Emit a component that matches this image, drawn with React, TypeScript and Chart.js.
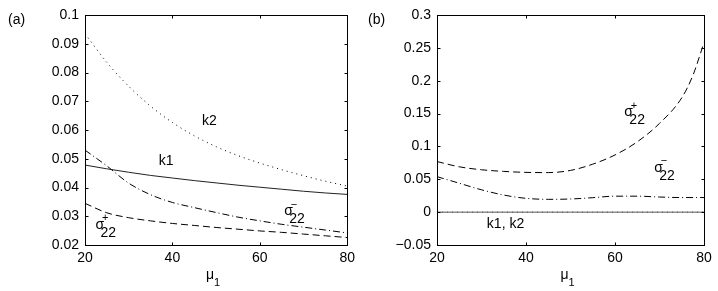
import React, { useEffect, useRef } from "react";
import { Chart, registerables } from "chart.js";

Chart.register(...registerables);

// ---------- data ----------
const MU = [20, 25, 30, 35, 40, 45, 50, 55, 60, 65, 70, 75, 80];

// panel (a)
const A_K1 = [0.0478, 0.0465, 0.0453, 0.0442, 0.0433, 0.0424, 0.0416, 0.0408, 0.0401, 0.0394, 0.0387, 0.0381, 0.0376];
const A_K2 = [0.0935, 0.0835, 0.0752, 0.0683, 0.0626, 0.058, 0.0542, 0.0511, 0.0485, 0.0462, 0.0441, 0.0422, 0.0405];
const A_SIG_MINUS = [0.053, 0.0475, 0.0415, 0.0375, 0.0348, 0.033, 0.0313, 0.0297, 0.0284, 0.0272, 0.0262, 0.0252, 0.0242];
const A_SIG_PLUS = [0.0345, 0.0312, 0.0295, 0.0284, 0.0275, 0.0268, 0.0261, 0.0255, 0.0249, 0.0244, 0.0238, 0.0232, 0.0226];

// panel (b)
const MU_B = [20, 25, 30, 35, 40, 45, 50, 55, 60, 65, 70, 75, 77.5, 80];
const B_SIG_PLUS = [0.077, 0.069, 0.0645, 0.062, 0.0605, 0.0602, 0.0635, 0.073, 0.087, 0.107, 0.135, 0.174, 0.208, 0.258];
const B_SIG_MINUS = [0.054, 0.044, 0.034, 0.026, 0.021, 0.0195, 0.02, 0.022, 0.0243, 0.0243, 0.023, 0.0222, 0.0222, 0.0225];
const B_K1 = [0, 0, 0, 0, 0, 0, 0, 0, 0, 0, 0, 0, 0];
const B_K2 = [0, 0, 0, 0, 0, 0, 0, 0, 0, 0, 0, 0, 0];

// ticks
const X_TICKS = [20, 40, 60, 80];
const A_Y_TICKS = [0.02, 0.03, 0.04, 0.05, 0.06, 0.07, 0.08, 0.09, 0.1];
const B_Y_TICKS = [-0.05, 0, 0.05, 0.1, 0.15, 0.2, 0.25, 0.3];

const FONT = '"Liberation Sans", Arial, Helvetica, sans-serif';
const FS = 14;

type Ann =
  | { kind: "text"; text: string; x: number; y: number }
  | { kind: "sigma"; sign: "+" | "−"; x: number; y: number };

const A_ANN: Ann[] = [
  { kind: "text", text: "k2", x: 46.8, y: 0.0617 },
  { kind: "text", text: "k1", x: 36.9, y: 0.0478 },
  { kind: "sigma", sign: "−", x: 65.6, y: 0.0304 },
  { kind: "sigma", sign: "+", x: 22.4, y: 0.0256 },
];
const B_ANN: Ann[] = [
  { kind: "sigma", sign: "+", x: 62.1, y: 0.1463 },
  { kind: "sigma", sign: "−", x: 68.8, y: 0.0615 },
  { kind: "text", text: "k1, k2", x: 31.2, y: -0.0241 },
];

const pts = (xs: number[], ys: number[]) => ys.map((y, i) => ({ x: xs[i], y }));

const fmt = (v: number) => {
  const s = String(Number(v.toFixed(4)));
  return s.startsWith("-") ? "−" + s.slice(1) : s;
};

const framePlugin = {
  id: "frame",
  afterDraw(chart: any) {
    const o = chart.options.plugins.frame;
    const { ctx, chartArea } = chart;
    const x = chart.scales.x;
    const y = chart.scales.y;
    const L = Math.round(chartArea.left) + 0.5;
    const R = Math.round(chartArea.right) + 0.5;
    const T = Math.round(chartArea.top) + 0.5;
    const B = Math.round(chartArea.bottom) + 0.5;
    ctx.save();
    ctx.strokeStyle = "#000";
    ctx.lineWidth = 1;
    ctx.strokeRect(L, T, R - L, B - T);
    const tl = 3;
    ctx.beginPath();
    for (const v of X_TICKS) {
      const px = Math.round(x.getPixelForValue(v)) + 0.5;
      ctx.moveTo(px, B);
      ctx.lineTo(px, B - tl);
      ctx.moveTo(px, T);
      ctx.lineTo(px, T + tl);
    }
    for (const v of o.yTicks as number[]) {
      const py = Math.round(y.getPixelForValue(v)) + 0.5;
      ctx.moveTo(L, py);
      ctx.lineTo(L + tl, py);
      ctx.moveTo(R, py);
      ctx.lineTo(R - tl, py);
    }
    ctx.stroke();

    ctx.fillStyle = "#000";
    ctx.textBaseline = "alphabetic";
    ctx.textAlign = "left";
    // panel label
    ctx.font = `${FS}px ${FONT}`;
    ctx.fillText(o.panel, 8, 24);

    // axis title mu_1
    const cx = (chartArea.left + chartArea.right) / 2;
    ctx.font = `${FS}px ${FONT}`;
    ctx.fillText("μ", cx - 10, 279);
    ctx.font = `11px ${FONT}`;
    ctx.fillText("1", cx - 2, 286);

    // annotations
    for (const a of o.ann as Ann[]) {
      const px = x.getPixelForValue(a.x);
      const py = y.getPixelForValue(a.y);
      if (a.kind === "text") {
        ctx.font = `${FS}px ${FONT}`;
        ctx.fillText(a.text, px, py);
      } else {
        ctx.font = `${FS}px ${FONT}`;
        ctx.fillText("σ", px, py);
        ctx.font = `11px ${FONT}`;
        ctx.fillText(a.sign, px + 6.5, py - 7.5);
        ctx.font = `${FS}px ${FONT}`;
        ctx.fillText("22", px + 5, py + 8);
      }
    }
    ctx.restore();
  },
};

type PanelCfg = {
  width: number;
  plotLeft: number;
  plotRight: number;
  yMin: number;
  yMax: number;
  yTicks: number[];
  panel: string;
  ann: Ann[];
  datasets: any[];
};

const line = (data: any[], dash: number[], color = "#000") => ({
  data,
  borderColor: color,
  borderWidth: 1,
  borderDash: dash,
  pointRadius: 0,
  cubicInterpolationMode: "monotone",
  fill: false,
});

const PANEL_A: PanelCfg = {
  width: 360,
  plotLeft: 85,
  plotRight: 352,
  yMin: 0.02,
  yMax: 0.1,
  yTicks: A_Y_TICKS,
  panel: "(a)",
  ann: A_ANN,
  datasets: [
    line(pts(MU, A_K2), [1, 4]),
    line(pts(MU, A_K1), [], "#222"),
    line(pts(MU, A_SIG_MINUS), [7, 3, 1, 3]),
    line(pts(MU, A_SIG_PLUS), [7, 4]),
  ],
};

const PANEL_B: PanelCfg = {
  width: 358,
  plotLeft: 77,
  plotRight: 344,
  yMin: -0.05,
  yMax: 0.3,
  yTicks: B_Y_TICKS,
  panel: "(b)",
  ann: B_ANN,
  datasets: [
    line(pts(MU, B_K1), [], "#555"),
    line(pts(MU, B_K2), [1, 4], "#555"),
    line(pts(MU_B, B_SIG_PLUS), [7, 4]),
    line(pts(MU, B_SIG_MINUS), [7, 3, 1, 3]),
  ],
};

function Panel({ cfg }: { cfg: PanelCfg }) {
  const ref = useRef<HTMLCanvasElement | null>(null);
  useEffect(() => {
    if (!ref.current) return;
    const H = 291;
    const top = 15;
    const bottom = 245;
    const chart = new Chart(ref.current, {
      type: "line",
      data: { datasets: cfg.datasets },
      plugins: [framePlugin],
      options: {
        responsive: false,
        animation: false,
        events: [],
        layout: {
          autoPadding: false,
          padding: { left: 0, right: cfg.width - cfg.plotRight, top, bottom: 0 },
        },
        plugins: {
          legend: { display: false },
          tooltip: { enabled: false },
          // @ts-ignore
          frame: { yTicks: cfg.yTicks, panel: cfg.panel, ann: cfg.ann },
        },
        scales: {
          x: {
            type: "linear",
            min: 20,
            max: 80,
            grid: { display: false, drawTicks: false },
            border: { display: false },
            afterBuildTicks: (s: any) => {
              s.ticks = X_TICKS.map((v) => ({ value: v }));
            },
            afterFit: (s: any) => {
              s.height = H - bottom;
            },
            ticks: {
              maxRotation: 0,
              autoSkip: false,
              padding: 5,
              color: "#000",
              font: { family: FONT, size: FS },
              callback: (v: any) => fmt(Number(v)),
            },
          },
          y: {
            type: "linear",
            min: cfg.yMin,
            max: cfg.yMax,
            grid: { display: false, drawTicks: false },
            border: { display: false },
            afterBuildTicks: (s: any) => {
              s.ticks = cfg.yTicks.map((v) => ({ value: v }));
            },
            afterFit: (s: any) => {
              s.width = cfg.plotLeft;
            },
            ticks: {
              autoSkip: false,
              padding: 6,
              color: "#000",
              font: { family: FONT, size: FS },
              callback: (v: any) => fmt(Number(v)),
            },
          },
        },
      } as any,
    });
    return () => chart.destroy();
  }, [cfg]);
  return <canvas ref={ref} width={cfg.width} height={291} style={{ display: "block" }} />;
}

export default function App() {
  return (
    <div
      style={{
        position: "fixed",
        left: 0,
        top: 0,
        width: 718,
        height: 291,
        display: "flex",
        background: "#fff",
      }}
    >
      <Panel cfg={PANEL_A} />
      <Panel cfg={PANEL_B} />
    </div>
  );
}
